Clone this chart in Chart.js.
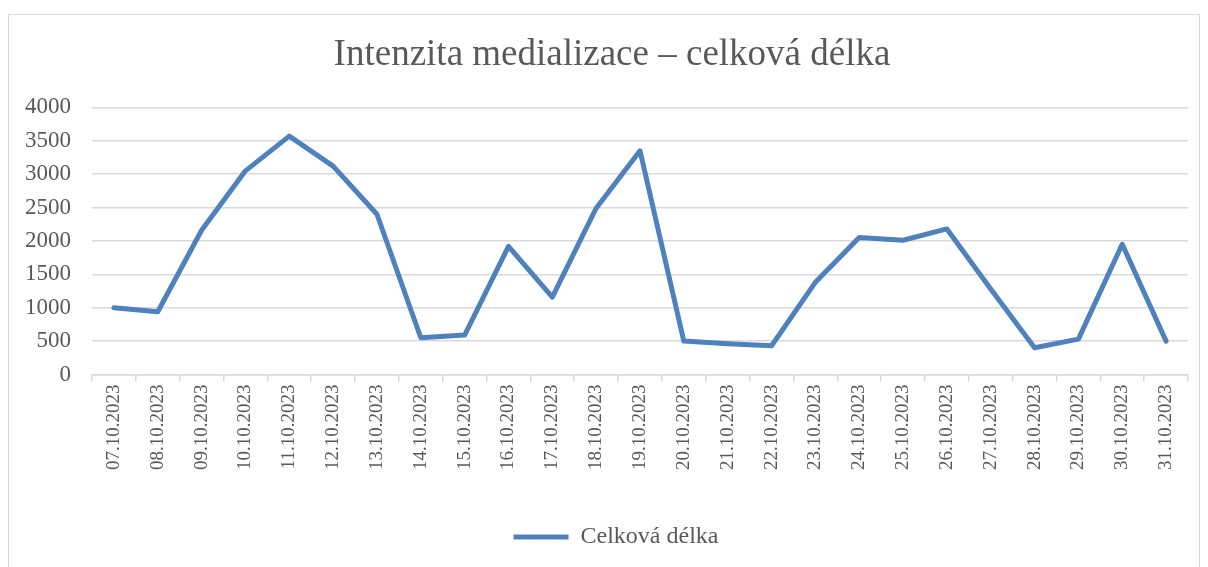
<!DOCTYPE html>
<html>
<head>
<meta charset="utf-8">
<script src="https://cdn.jsdelivr.net/npm/chart.js@4"></script>
<style>
  html, body { margin: 0; padding: 0; background: #fff; overflow: hidden; }
  #frame { position: absolute; left: 8px; top: 14px; width: 1192px; height: 600px; border: 1px solid #d9d9d9; box-sizing: border-box; }
  #wrap { position: absolute; left: 0; top: 0; width: 1208px; height: 567px; }
</style>
</head>
<body>
<div id="frame"></div>
<div id="wrap"><canvas id="chart"></canvas></div>
<script>
// data
const dates = [
  '07.10.2023', '08.10.2023', '09.10.2023', '10.10.2023', '11.10.2023',
  '12.10.2023', '13.10.2023', '14.10.2023', '15.10.2023', '16.10.2023',
  '17.10.2023', '18.10.2023', '19.10.2023', '20.10.2023', '21.10.2023',
  '22.10.2023', '23.10.2023', '24.10.2023', '25.10.2023', '26.10.2023',
  '27.10.2023', '28.10.2023', '29.10.2023', '30.10.2023', '31.10.2023'
];
const celkovaDelka = [
  1000, 940, 2160, 3050, 3570, 3120, 2400, 550, 590, 1920,
  1160, 2490, 3350, 500, 460, 430, 1380, 2050, 2010, 2180,
  1280, 400, 530, 1950, 500
];
const yTicks = [0, 500, 1000, 1500, 2000, 2500, 3000, 3500, 4000];

const FONT = '"Liberation Serif", "Times New Roman", serif';
const TEXT = '#595959';
const GRID = '#d9d9d9';
const BLUE = '#4f81bd';

// title and legend sit a bit right of the canvas centre in the original
const nudgeBlocks = {
  id: 'nudgeBlocks',
  afterLayout(chart) {
    if (chart.titleBlock) { chart.titleBlock.left += 16; chart.titleBlock.right += 16; }
    if (chart.legend) { chart.legend.left += 20; chart.legend.right += 20; }
  },
};

new Chart(document.getElementById('chart'), {
  type: 'line',
  data: {
    labels: dates,
    datasets: [{
      label: 'Celková délka',
      data: celkovaDelka,
      borderColor: BLUE,
      backgroundColor: BLUE,
      borderWidth: 5,
      borderCapStyle: 'round',
      borderJoinStyle: 'round',
      pointRadius: 0,
      tension: 0,
    }],
  },
  plugins: [nudgeBlocks],
  options: {
    responsive: true,
    maintainAspectRatio: false,
    animation: false,
    layout: { padding: { left: 4, right: 20, top: 0, bottom: 8 } },
    plugins: {
      title: {
        display: true,
        text: 'Intenzita medializace – celková délka',
        color: TEXT,
        font: { family: FONT, size: 37, weight: 'normal' },
        padding: { top: 33, bottom: 30 },
      },
      legend: {
        position: 'bottom',
        labels: {
          color: TEXT,
          font: { family: FONT, size: 24 },
          usePointStyle: true,
          pointStyle: 'line',
          pointStyleWidth: 55,
          padding: 52,
        },
      },
      tooltip: { enabled: false },
    },
    scales: {
      x: {
        offset: true,
        grid: {
          offset: true,
          drawOnChartArea: false,
          drawTicks: true,
          tickLength: 7,
          color: GRID,
          lineWidth: 1.5,
        },
        border: { color: GRID, width: 1.5 },
        ticks: {
          autoSkip: false,
          minRotation: 90,
          maxRotation: 90,
          padding: 3,
          color: TEXT,
          font: { family: FONT, size: 19 },
        },
      },
      y: {
        min: 0,
        max: 4000,
        afterBuildTicks: (scale) => { scale.ticks = yTicks.map(v => ({ value: v })); },
        grid: { drawTicks: false, color: GRID, lineWidth: 1.5 },
        border: { display: false },
        ticks: {
          padding: 21,
          color: TEXT,
          font: { family: FONT, size: 23 },
          callback: (v) => String(v),
        },
      },
    },
  },
});
</script>
</body>
</html>
